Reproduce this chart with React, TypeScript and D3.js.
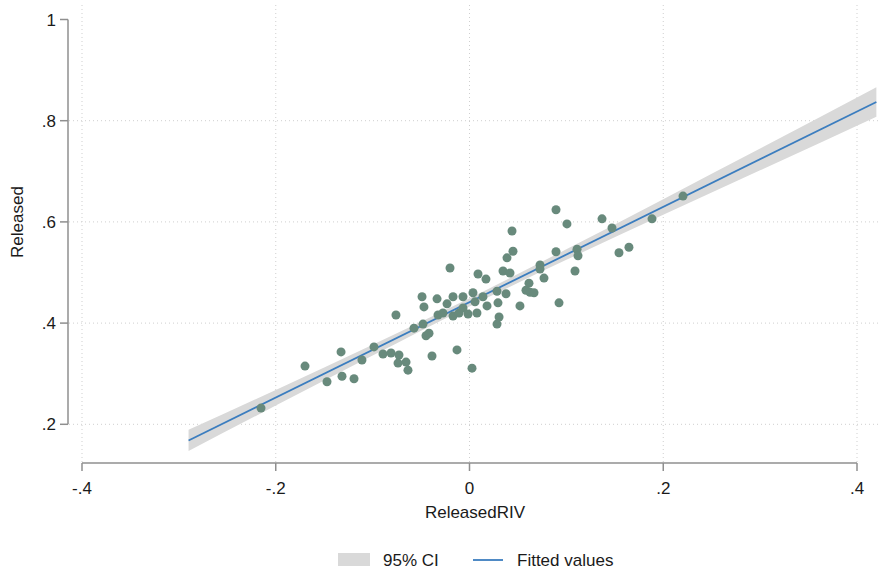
import React from "react";
import * as d3 from "d3";

// Scatter data: ReleasedRIV (x) vs Released (y)
const pointX = [
  -0.2152, -0.1698, -0.1471, -0.1326, -0.1316, -0.1192, -0.111, -0.0986, -0.0893, -0.081,
  -0.0728, -0.0738, -0.0655, -0.0635, -0.0759, -0.0573, -0.048, -0.0449, -0.0418, -0.0387,
  -0.049, -0.047, -0.0201, -0.0129, 0.0026, -0.0335, -0.017, -0.0067, 0.0036, 0.0088,
  0.017, 0.0139, 0.0181, 0.0284, 0.0294, 0.0377, 0.0284, 0.0305, -0.0325, -0.0274,
  -0.0232, -0.017, -0.0108, -0.0067, -0.0015, 0.0077, 0.0057, 0.0387, 0.0449, 0.0439,
  0.0346, 0.0418, 0.0521, 0.0614, 0.0625, 0.0666, 0.0583, 0.0728, 0.0728, 0.0769,
  0.0893, 0.0893, 0.1006, 0.111, 0.112, 0.1089, 0.0924, 0.1368, 0.1471, 0.1543,
  0.1646, 0.1884, 0.2204,
];
const pointY = [
  0.232, 0.315, 0.284, 0.343, 0.295, 0.29, 0.327, 0.353, 0.339, 0.341,
  0.337, 0.321, 0.323, 0.307, 0.416, 0.39, 0.398, 0.375, 0.38, 0.335,
  0.452, 0.432, 0.509, 0.347, 0.311, 0.448, 0.452, 0.452, 0.46, 0.497,
  0.487, 0.452, 0.434, 0.463, 0.44, 0.458, 0.398, 0.412, 0.416, 0.42,
  0.438, 0.414, 0.42, 0.43, 0.418, 0.42, 0.442, 0.529, 0.542, 0.582,
  0.503, 0.499, 0.434, 0.479, 0.461, 0.46, 0.465, 0.515, 0.507, 0.489,
  0.541, 0.624, 0.596, 0.546, 0.533, 0.503, 0.44, 0.606, 0.588, 0.539,
  0.55, 0.606, 0.651,
];

// Fitted line and 95% CI band
const fitX = [-0.29, 0.42];
const fitY = [0.168, 0.837];
const ciX = [-0.29, -0.2, -0.1, 0, 0.1, 0.2, 0.3, 0.42];
const ciLow = [0.147, 0.237, 0.336, 0.433, 0.525, 0.614, 0.702, 0.808];
const ciHigh = [0.189, 0.268, 0.357, 0.449, 0.546, 0.645, 0.745, 0.866];

const xTicks = [-0.4, -0.2, 0, 0.2, 0.4];
const yTicks = [0.2, 0.4, 0.6, 0.8, 1];
const xTickLabels = ["-.4", "-.2", "0", ".2", ".4"];
const yTickLabels = [".2", ".4", ".6", ".8", "1"];

const W = 881;
const H = 569;
const FONT = "Arimo, 'Liberation Sans', Arial, sans-serif";
const FS = 17;
const GRID = "#cfcfcf";
const AXIS = "#8f8f8f";
const BLUE = "#3b7dbf";
const DOT = "#688a7c";
const BAND = "#d9d9d9";
const TXT = "#1a1a1a";

export default function App() {
  const x = d3.scaleLinear().domain([-0.4, 0.4]).range([82, 857]);
  const y = d3.scaleLinear().domain([0.2, 1]).range([424.3, 19.5]);

  const plotLeft = 69;
  const plotRight = 878;
  const plotTop = 5;
  const axisY = 463;
  const axisX = 68;

  const bandData = ciX.map((v, i) => ({ x: v, lo: ciLow[i], hi: ciHigh[i] }));
  const area = d3
    .area<{ x: number; lo: number; hi: number }>()
    .x((d) => x(d.x))
    .y0((d) => y(d.lo))
    .y1((d) => y(d.hi))
    .curve(d3.curveMonotoneX);
  const line = d3
    .line<number>()
    .x((_, i) => x(fitX[i]))
    .y((d) => y(d));

  return (
    <svg
      width={W}
      height={H}
      style={{ position: "absolute", left: 0, top: 0, background: "#fff" }}
      fontFamily={FONT}
    >
      <rect x={0} y={0} width={W} height={H} fill="#fff" />
      {/* grid */}
      {yTicks
        .filter((t) => t < 1)
        .map((t) => (
          <line
            key={"gy" + t}
            x1={plotLeft}
            x2={plotRight}
            y1={y(t)}
            y2={y(t)}
            stroke={GRID}
            strokeWidth={1}
            strokeDasharray="1 3"
          />
        ))}
      {xTicks.map((t) => (
        <line
          key={"gx" + t}
          x1={x(t)}
          x2={x(t)}
          y1={plotTop}
          y2={axisY - 1}
          stroke={GRID}
          strokeWidth={1}
          strokeDasharray="1 3"
        />
      ))}

      {/* CI band and fitted line */}
      <path d={area(bandData) || ""} fill={BAND} />
      <path d={line(fitY) || ""} fill="none" stroke={BLUE} strokeWidth={1.8} />

      {/* scatter */}
      {pointX.map((v, i) => (
        <circle key={"p" + i} cx={x(v)} cy={y(pointY[i])} r={4.5} fill={DOT} />
      ))}

      {/* y axis */}
      <line x1={axisX} x2={axisX} y1={y(1)} y2={y(0.2)} stroke={AXIS} strokeWidth={1.5} />
      {yTicks.map((t, i) => (
        <g key={"yt" + t}>
          <line x1={axisX - 8} x2={axisX} y1={y(t)} y2={y(t)} stroke={AXIS} strokeWidth={1.5} />
          <text
            x={axisX - 12}
            y={y(t) + 6}
            textAnchor="end"
            fontSize={FS}
            fill={TXT}
          >
            {yTickLabels[i]}
          </text>
        </g>
      ))}
      <text
        transform={`translate(23, 222) rotate(-90)`}
        textAnchor="middle"
        fontSize={FS}
        fill={TXT}
      >
        Released
      </text>

      {/* x axis */}
      <line x1={x(-0.4)} x2={x(0.4)} y1={axisY} y2={axisY} stroke={AXIS} strokeWidth={1.5} />
      {xTicks.map((t, i) => (
        <g key={"xt" + t}>
          <line x1={x(t)} x2={x(t)} y1={axisY} y2={axisY + 8} stroke={AXIS} strokeWidth={1.5} />
          <text
            x={x(t)}
            y={494}
            textAnchor="middle"
            fontSize={FS}
            fill={TXT}
          >
            {xTickLabels[i]}
          </text>
        </g>
      ))}
      <text x={475} y={518} textAnchor="middle" fontSize={FS} fill={TXT}>
        ReleasedRIV
      </text>

      {/* legend */}
      <rect x={338} y={553} width={32} height={13} fill={BAND} />
      <text x={383} y={566} fontSize={FS} fill={TXT}>
        95% CI
      </text>
      <line x1={473} x2={503} y1={560} y2={560} stroke={BLUE} strokeWidth={1.8} />
      <text x={517} y={566} fontSize={FS} fill={TXT}>
        Fitted values
      </text>
    </svg>
  );
}
